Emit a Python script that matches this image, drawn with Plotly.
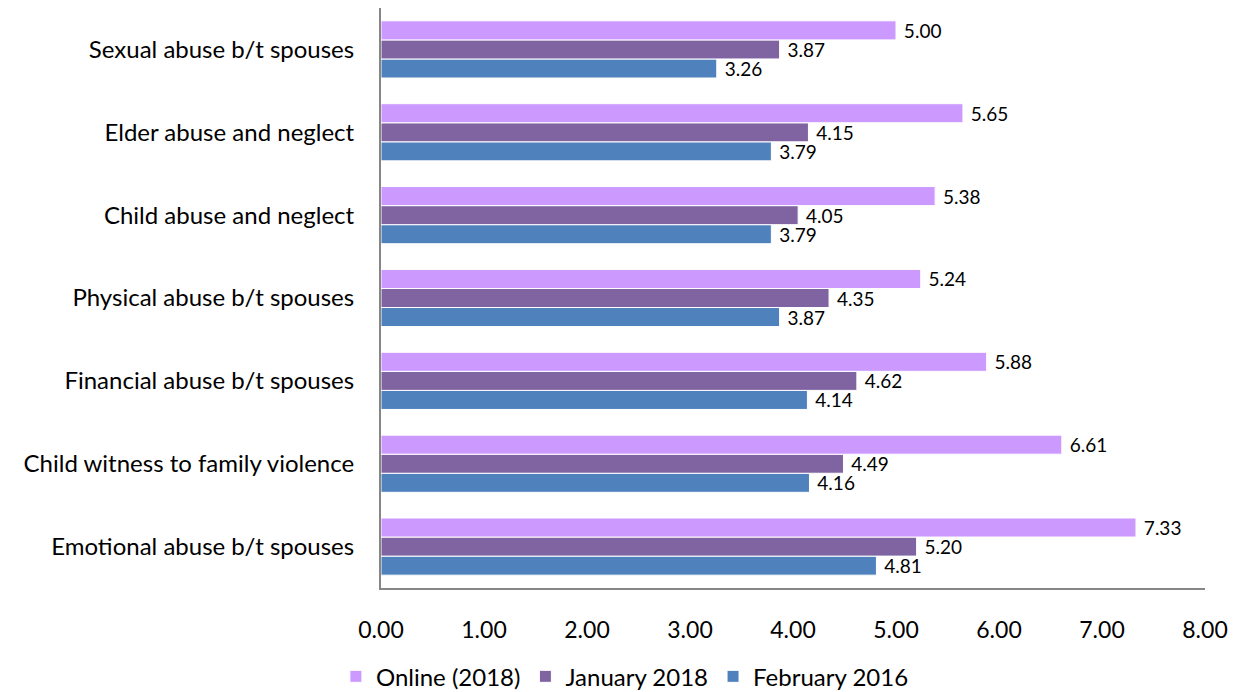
import plotly.graph_objects as go

categories = ["Emotional abuse b/t spouses", "Child witness to family violence",
              "Financial abuse b/t spouses", "Physical abuse b/t spouses",
              "Child abuse and neglect", "Elder abuse and neglect",
              "Sexual abuse b/t spouses"]
online_2018 = [7.33, 6.61, 5.88, 5.24, 5.38, 5.65, 5.00]
january_2018 = [5.20, 4.49, 4.62, 4.35, 4.05, 4.15, 3.87]
february_2016 = [4.81, 4.16, 4.14, 3.87, 3.79, 3.79, 3.26]
x_ticks = [0, 1, 2, 3, 4, 5, 6, 7, 8]

FONT = "Lato"
FS = 23
series = [("February 2016", february_2016, "#4F81BD"),
          ("January 2018", january_2018, "#8064A2"),
          ("Online (2018)", online_2018, "#CC99FF")]

fig = go.Figure()
for name, vals, color in series:
    fig.add_trace(go.Bar(
        y=categories, x=vals, name=name, orientation="h",
        marker=dict(color=color, line=dict(color="white", width=1)),
        text=["\u00a0" + f"{v:.2f}" for v in vals], textposition="outside",
        constraintext="none",
        textfont=dict(family=FONT, size=19, color="black"),
        cliponaxis=False,
    ))

fig.update_layout(
    barmode="group", bargap=0.31, bargroupgap=0,
    width=1235, height=710,
    margin=dict(l=373, r=38, t=0, b=130),
    plot_bgcolor="white", paper_bgcolor="white",
    font=dict(family=FONT, size=FS, color="black"),
    showlegend=True,
    legend=dict(orientation="h", traceorder="reversed", x=0.296, xref="paper",
                xanchor="center", y=-0.153, yanchor="middle",
                font=dict(family=FONT, size=24), itemwidth=30),
    xaxis=dict(range=[0, 8], tickvals=x_ticks,
               ticktext=[f"{t:.2f}" for t in x_ticks],
               showgrid=False, zeroline=False, showline=True,
               linecolor="#868686", linewidth=2, ticks="",
               ticklabelstandoff=20, tickfont=dict(family=FONT, size=FS)),
    yaxis=dict(showgrid=False, showline=True, linecolor="#868686", linewidth=2,
               ticks="", ticklabelstandoff=20,
               tickfont=dict(family=FONT, size=24)),
)
fig.write_html("out.html")
